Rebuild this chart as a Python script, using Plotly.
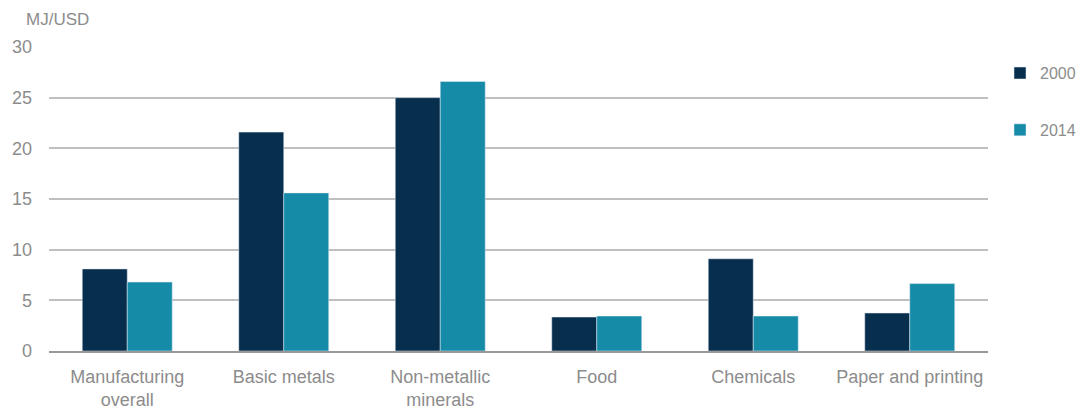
import plotly.graph_objects as go

categories = ["Manufacturing<br>overall", "Basic metals", "Non-metallic<br>minerals", "Food", "Chemicals", "Paper and printing"]
values_2000 = [8.1, 21.6, 25.0, 3.35, 9.1, 3.75]
values_2014 = [6.8, 15.6, 26.6, 3.45, 3.45, 6.65]
tick_vals = [0, 5, 10, 15, 20, 25, 30]

gray = "#8C8C8C"
fig = go.Figure()
fig.add_trace(go.Bar(x=categories, y=values_2000, name="2000", marker_color="#082E4D",
                     legendgroup="a"))
fig.add_trace(go.Bar(x=categories, y=values_2014, name="2014", marker_color="#158BA8",
                     legendgroup="b"))

fig.update_layout(
    width=1078, height=409,
    margin=dict(l=49, r=90, t=47, b=58, autoexpand=False),
    plot_bgcolor="white", paper_bgcolor="white",
    barmode="group", bargap=0.425, bargroupgap=0,
    font=dict(family="Liberation Sans, Arial, sans-serif", size=18, color=gray),
    legend=dict(x=1.0128, y=0.97, xanchor="left", yanchor="top",
                tracegroupgap=33, font=dict(size=16, color=gray),
                itemwidth=30, borderwidth=0),
    showlegend=True,
    xaxis=dict(showline=True, linecolor="#999999", linewidth=2, ticks="",
               ticklabelstandoff=8, tickfont=dict(size=18, color=gray)),
    yaxis=dict(range=[0, 30], tickvals=tick_vals, showgrid=True, gridcolor="#BFBFBF",
               gridwidth=1.5, zeroline=False, ticks="", ticklabelstandoff=16,
               tickfont=dict(size=18, color=gray)),
    annotations=[dict(text="MJ/USD", xref="paper", yref="paper", x=-0.027, y=1.0,
                      xanchor="left", yanchor="bottom", yshift=16, showarrow=False,
                      font=dict(size=17, color=gray))],
)
fig.write_html("out.html", config={"displayModeBar": False},
               post_script="document.body.style.margin='0';document.body.style.overflow='hidden';")
